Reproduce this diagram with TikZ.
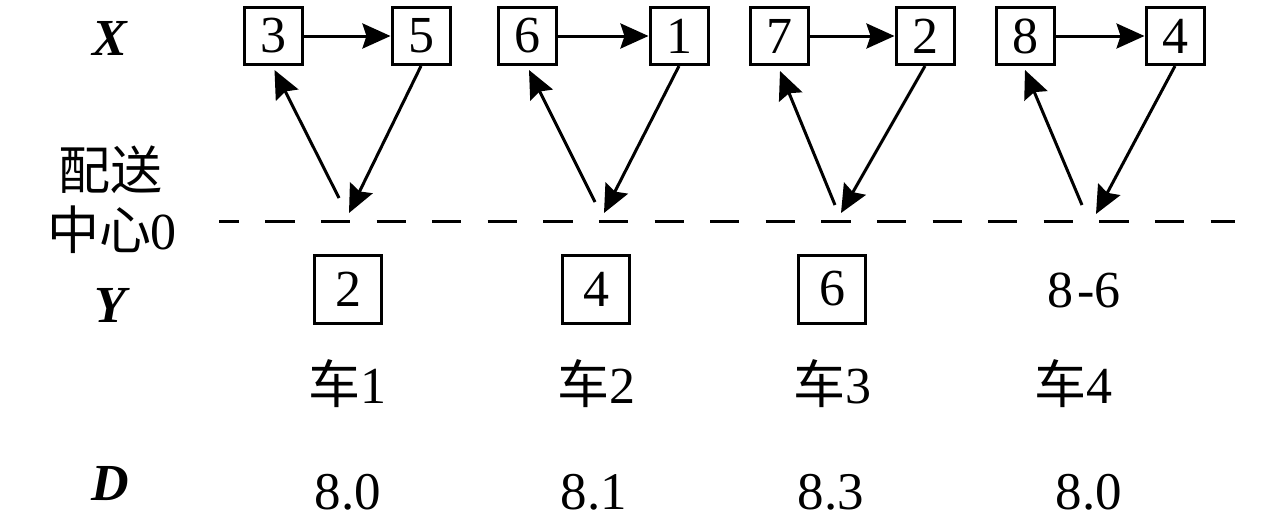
\documentclass[tikz,border=0pt]{standalone}
\usepackage{fontspec}
\setmainfont{Liberation Serif}
\newfontfamily\cjk{Noto Sans CJK SC}
\usetikzlibrary{arrows.meta}
\begin{document}
\begin{tikzpicture}[x=1pt,y=-1pt,
  every node/.style={font=\fontsize{52}{60}\selectfont, inner sep=0pt},
  xbox/.style={draw, line width=3pt, minimum width=58pt, minimum height=57pt},
  ybox/.style={draw, line width=3pt, minimum width=67pt, minimum height=68pt},
  arr/.style={line width=3pt, -{Stealth[length=28pt,width=25pt,inset=4pt]}},
  dval/.style={font=\fontsize{53}{60}\selectfont},
]
\useasboundingbox (0,0) rectangle (1280,520);

% row labels
\node (lx) at (110,38) {\textbf{\textit{X}}};
\node (lc1) at (110,170) {\cjk 配送};
\node (lc2) at (112,230) {{\cjk 中心}0};
\node (ly) at (112,305) {\textbf{\textit{Y}}};
\node (ld) at (110,484) {\textbf{\textit{D}}};

% top boxes
\node[xbox] (b3) at (273.5,36) {3};
\node[xbox] (b5) at (421,36) {5};
\node[xbox] (b6) at (527,36) {6};
\node[xbox] (b1) at (679,36) {1};
\node[xbox] (b7) at (779,36) {7};
\node[xbox] (b2) at (925,36) {2};
\node[xbox] (b8) at (1025,36) {8};
\node[xbox] (b4) at (1175,36) {4};

% horizontal arrows
\draw[arr] (b3.east) -- (b5.west);
\draw[arr] (b6.east) -- (b1.west);
\draw[arr] (b7.east) -- (b2.west);
\draw[arr] (b8.east) -- (b4.west);

% depot points
\coordinate (u1) at (339,198); \coordinate (d1) at (349,213);
\coordinate (u2) at (595,202); \coordinate (d2) at (604,213);
\coordinate (u3) at (835,205); \coordinate (d3) at (841,213);
\coordinate (u4) at (1082,205); \coordinate (d4) at (1096,214);

\draw[arr] (u1) -- ([yshift=-4pt,xshift=1pt]b3.south);
\draw[arr] (b5.south) -- (d1);
\draw[arr] (u2) -- ([yshift=-4pt,xshift=2pt]b6.south);
\draw[arr] (b1.south) -- (d2);
\draw[arr] (u3) -- ([yshift=-5pt,xshift=1pt]b7.south);
\draw[arr] (b2.south) -- (d3);
\draw[arr] (u4) -- ([yshift=-4pt]b8.south);
\draw[arr] (b4.south) -- (d4);

% dashed depot line
\coordinate (dl0) at (219,221);
\coordinate (dl1) at (1235,221);
\draw[line width=3pt, dash pattern=on 29.3pt off 26.3pt, dash phase=9.3pt] (dl0) -- (dl1);

% Y row
\node[ybox] (y1) at (348,289) {2};
\node[ybox] (y2) at (596,289) {4};
\node[ybox] (y3) at (832,289) {6};
\node (y4) at (1084,290) {8{\kern4pt}-6};

% vehicles
\node (c1) at (347,384) {{\cjk 车}1};
\node (c2) at (596,384) {{\cjk 车}2};
\node (c3) at (832,384) {{\cjk 车}3};
\node (c4) at (1073,384) {{\cjk 车}4};

% D row
\node[dval] (v1) at (348,492) {8.0};
\node[dval] (v2) at (594,492) {8.1};
\node[dval] (v3) at (831,492) {8.3};
\node[dval] (v4) at (1089,492) {8.0};
\end{tikzpicture}
\end{document}
